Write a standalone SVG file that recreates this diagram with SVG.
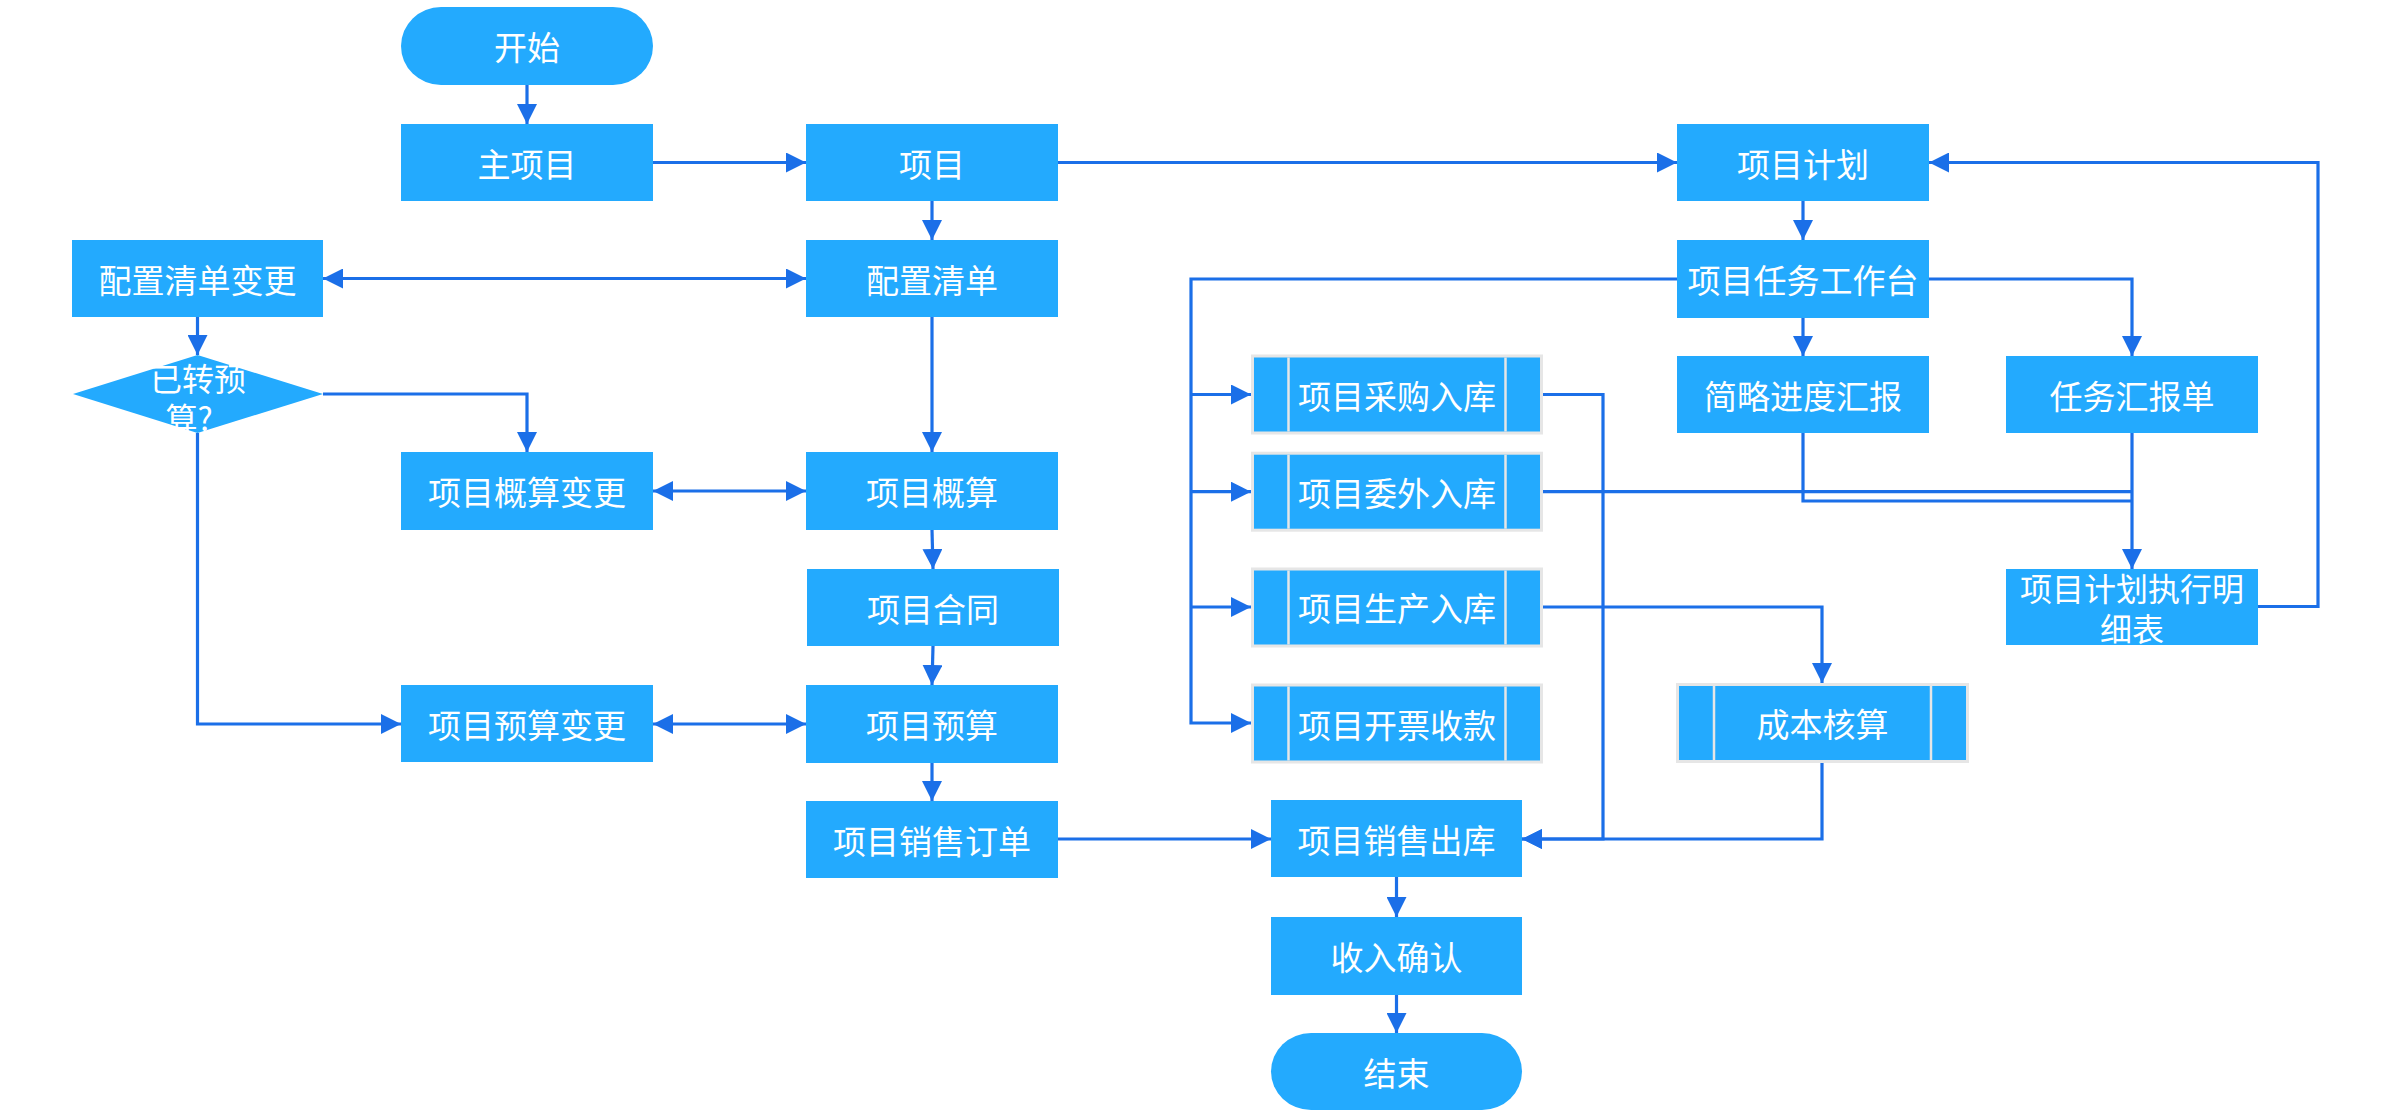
<svg xmlns="http://www.w3.org/2000/svg" width="2393" height="1112" viewBox="0 0 2393 1112">
<style>
.n{fill:#23aafe;}
.s{fill:#23aafe;stroke:#e6e6e6;stroke-width:3;}
.bar{stroke:#e6e6e6;stroke-width:2.5;}
.t{font-family:"Noto Sans CJK SC","Noto Sans",sans-serif;font-size:33px;fill:#ffffff;text-anchor:middle;dominant-baseline:central;}
.t2{font-size:32px;}
.c path{fill:none;stroke:#1b6fe8;stroke-width:3.2;}
.e{marker-end:url(#a);}
.b{marker-start:url(#a);marker-end:url(#a);}
</style>
<defs>
<marker id="a" markerUnits="userSpaceOnUse" markerWidth="20" markerHeight="20" refX="20" refY="10" orient="auto-start-reverse" viewBox="0 0 20 20">
<path d="M0,0 L20,10 L0,20 z" fill="#1b6fe8"/>
</marker>
</defs>
<rect width="2393" height="1112" fill="#ffffff"/>

<g id="connectors" class="c">
<path class="e" d="M527,85 V124"/>
<path class="e" d="M653,162.5 H806"/>
<path class="e" d="M1058,162.5 H1677"/>
<path class="e" d="M932,201 V240"/>
<path class="b" d="M323,278.5 H806"/>
<path class="e" d="M932,317 V452"/>
<path class="b" d="M653,491 H806"/>
<path class="e" d="M932,530 L933,569"/>
<path class="e" d="M933,646 L932,685"/>
<path class="b" d="M653,724 H806"/>
<path class="e" d="M932,763 V801"/>
<path class="e" d="M1058,839 H1271"/>
<path class="e" d="M197.5,317 V355"/>
<path class="e" d="M323,394 H527 V452"/>
<path class="e" d="M197.5,433 V724 H401"/>
<path class="e" d="M1803,201 V240"/>
<path class="e" d="M1803,318 V356"/>
<path class="e" d="M1929,279 H2132 V356"/>
<path class="e" d="M1677,279 H1191 V723 H1251"/>
<path class="e" d="M1191,394.5 H1251"/>
<path class="e" d="M1191,491.7 H1251"/>
<path class="e" d="M1191,607 H1251"/>
<path class="e" d="M1543,394.5 H1603 V839 H1522"/>
<path d="M1543,491.7 H2132"/>
<path class="e" d="M1543,607 H1822 V683"/>
<path class="e" d="M1822,763 V839 H1522"/>
<path d="M1803,433 V501 H2132"/>
<path class="e" d="M2132,433 V569"/>
<path class="e" d="M2258,606.5 H2318 V162.5 H1929"/>
<path class="e" d="M1396.5,877 V917"/>
<path class="e" d="M1396.5,995 V1033"/>
</g>

<g id="start"><rect class="n" x="401" y="7" width="252" height="78" rx="40" ry="39"/><text class="t" x="527" y="46">开始</text></g>
<g id="main-project"><rect class="n" x="401" y="124" width="252" height="77"/><text class="t" x="527" y="162.5">主项目</text></g>
<g id="project"><rect class="n" x="806" y="124" width="252" height="77"/><text class="t" x="932" y="162.5">项目</text></g>
<g id="project-plan"><rect class="n" x="1677" y="124" width="252" height="77"/><text class="t" x="1803" y="162.5">项目计划</text></g>
<g id="config-change"><rect class="n" x="72" y="240" width="251" height="77"/><text class="t" x="197.5" y="278.5">配置清单变更</text></g>
<g id="config"><rect class="n" x="806" y="240" width="252" height="77"/><text class="t" x="932" y="278.5">配置清单</text></g>
<g id="task-desk"><rect class="n" x="1677" y="240" width="252" height="78"/><text class="t" x="1803" y="279">项目任务工作台</text></g>
<g id="decision"><polygon class="n" points="197.5,355 323,394 197.5,433 73,394"/><text class="t t2"><tspan x="198" y="376.5">已转预</tspan><tspan x="189" y="416.5">算?</tspan></text></g>
<g id="purchase-in"><rect class="s" x="1252.5" y="356" width="289" height="77"/><line class="bar" x1="1288.5" y1="357.5" x2="1288.5" y2="431.5"/><line class="bar" x1="1505.5" y1="357.5" x2="1505.5" y2="431.5"/><text class="t" x="1397" y="394.5">项目采购入库</text></g>
<g id="brief-report"><rect class="n" x="1677" y="356" width="252" height="77"/><text class="t" x="1803" y="394.5">简略进度汇报</text></g>
<g id="task-report"><rect class="n" x="2006" y="356" width="252" height="77"/><text class="t" x="2132" y="394.5">任务汇报单</text></g>
<g id="estimate-change"><rect class="n" x="401" y="452" width="252" height="78"/><text class="t" x="527" y="491">项目概算变更</text></g>
<g id="estimate"><rect class="n" x="806" y="452" width="252" height="78"/><text class="t" x="932" y="491">项目概算</text></g>
<g id="outsource-in"><rect class="s" x="1252.5" y="453.2" width="289" height="77"/><line class="bar" x1="1288.5" y1="454.7" x2="1288.5" y2="528.7"/><line class="bar" x1="1505.5" y1="454.7" x2="1505.5" y2="528.7"/><text class="t" x="1397" y="491.7">项目委外入库</text></g>
<g id="contract"><rect class="n" x="807" y="569" width="252" height="77"/><text class="t" x="933" y="607.5">项目合同</text></g>
<g id="production-in"><rect class="s" x="1252.5" y="569" width="289" height="77"/><line class="bar" x1="1288.5" y1="570.5" x2="1288.5" y2="644.5"/><line class="bar" x1="1505.5" y1="570.5" x2="1505.5" y2="644.5"/><text class="t" x="1397" y="607">项目生产入库</text></g>
<g id="plan-detail"><rect class="n" x="2006" y="569" width="252" height="76"/><text class="t t2"><tspan x="2132" y="587">项目计划执行明</tspan><tspan x="2132" y="627">细表</tspan></text></g>
<g id="budget-change"><rect class="n" x="401" y="685" width="252" height="77"/><text class="t" x="527" y="724">项目预算变更</text></g>
<g id="budget"><rect class="n" x="806" y="685" width="252" height="78"/><text class="t" x="932" y="724">项目预算</text></g>
<g id="invoice"><rect class="s" x="1252.5" y="685" width="289" height="77"/><line class="bar" x1="1288.5" y1="686.5" x2="1288.5" y2="760.5"/><line class="bar" x1="1505.5" y1="686.5" x2="1505.5" y2="760.5"/><text class="t" x="1397" y="723.5">项目开票收款</text></g>
<g id="costing"><rect class="s" x="1677.5" y="684.5" width="290" height="77"/><line class="bar" x1="1714" y1="686" x2="1714" y2="760"/><line class="bar" x1="1931" y1="686" x2="1931" y2="760"/><text class="t" x="1822.5" y="723">成本核算</text></g>
<g id="sales-order"><rect class="n" x="806" y="801" width="252" height="77"/><text class="t" x="932" y="839.5">项目销售订单</text></g>
<g id="sales-out"><rect class="n" x="1271" y="800" width="251" height="77"/><text class="t" x="1396.5" y="838.5">项目销售出库</text></g>
<g id="revenue"><rect class="n" x="1271" y="917" width="251" height="78"/><text class="t" x="1396.5" y="956">收入确认</text></g>
<g id="end"><rect class="n" x="1271" y="1033" width="251" height="77" rx="40" ry="38.5"/><text class="t" x="1396.5" y="1071.5">结束</text></g>
</svg>
